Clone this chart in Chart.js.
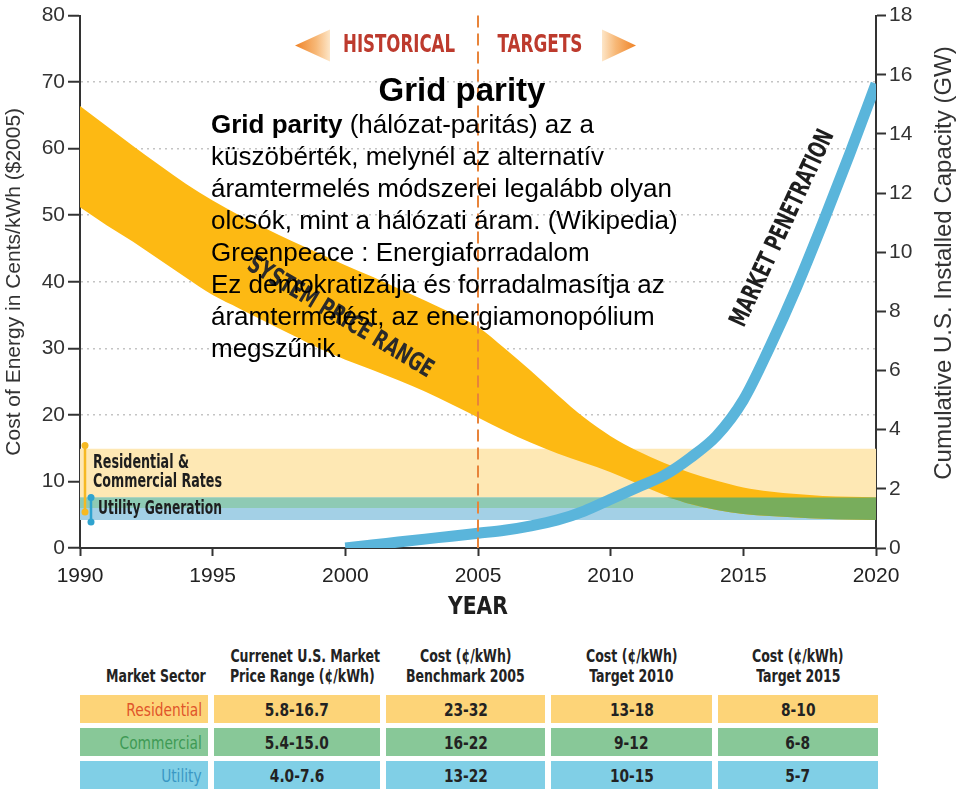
<!DOCTYPE html>
<html>
<head>
<meta charset="utf-8">
<script src="https://cdn.jsdelivr.net/npm/chart.js@4/dist/chart.umd.min.js"></script>
<style>
  body { margin:0; background:#fff; width:960px; height:789px; overflow:hidden; position:relative; font-family:'Liberation Sans', Arial, sans-serif; }
  #wrap { position:absolute; left:0; top:0; width:960px; height:640px; }
  #title { position:absolute; left:462px; top:70px; transform:translateX(-50%); font:bold 33px/40px 'Liberation Sans', Arial, sans-serif; color:#000; white-space:nowrap; }
  #note { position:absolute; left:211px; top:108px; font:26px/32px 'Liberation Sans', Arial, sans-serif; color:#000; white-space:nowrap; }
  .cell { position:absolute; display:flex; align-items:center; justify-content:center; font:bold 18px 'Liberation Sans Narrow','DejaVu Sans Condensed',sans-serif; color:#222; white-space:nowrap; }
  .cell span { display:inline-block; transform:scaleX(.85); }
  .hd { position:absolute; text-align:center; font:bold 17px/20px 'Liberation Sans Narrow','DejaVu Sans Condensed',sans-serif; color:#222; white-space:nowrap; }
  .hd span { display:inline-block; transform:scaleX(.82); }
</style>
</head>
<body>
<div id="wrap"><canvas id="chart"></canvas></div>
<div id="title">Grid parity</div>
<div id="note"><b>Grid parity</b> (hálózat-paritás) az a<br>küszöbérték, melynél az alternatív<br>áramtermelés módszerei legalább olyan<br>olcsók, mint a hálózati áram. (Wikipedia)<br>Greenpeace : Energiaforradalom<br>Ez demokratizálja és forradalmasítja az<br>áramtermelést, az energiamonopólium<br>megszűnik.</div>
<div id="tbl"></div>
<script>
// years on the x axis
const years = [1990,1991,1992,1993,1994,1995,1996,1997,1998,1999,2000,2001,2002,2003,2004,2005,
  2006,2007,2008,2009,2010,2011,2012,2013,2014,2015,2016,2017,2018,2019,2020];
// system price range (cents/kWh), upper and lower edge
const priceHigh = [66.4,63.4,60.4,57.5,54.7,52.2,50.0,48.0,46.1,44.3,42.5,40.8,39.0,37.2,35.3,33.2,
  30.0,26.6,23.0,19.6,16.8,14.6,12.8,11.3,10.1,9.1,8.5,8.1,7.8,7.7,7.6];
const priceLow = [51.2,48.5,46.0,43.3,40.6,38.0,36.0,34.0,32.0,30.0,28.3,26.8,25.2,23.5,21.6,19.6,
  17.6,15.8,14.2,12.8,11.4,9.7,8.0,6.6,5.7,5.1,4.8,4.6,4.4,4.3,4.2];
// cumulative installed capacity (GW), right axis
const penetration = [null,null,null,null,null,null,null,null,null,null,0,0.1,0.2,0.3,0.4,0.5,
  0.6,0.75,0.95,1.25,1.65,2.05,2.45,3.05,3.8,5.0,6.8,8.8,11.0,13.3,15.7];
// horizontal rate bands (low, high)
const ratesRange = [6.0, 14.9];
const utilityRange = [4.2, 7.6];
const bandYears = [1990, 2020];

// table
const sectors = ['Residential', 'Commercial', 'Utility'];
const sectorColors = ['#e0552a', '#3f9a55', '#3a98c4'];
const rowColors = ['#fdd478', '#88c898', '#80cfe6'];
const headers = [['Market Sector'], ['Currenet U.S. Market', 'Price Range (¢/kWh)'], ['Cost (¢/kWh)', 'Benchmark 2005'],
  ['Cost (¢/kWh)', 'Target 2010'], ['Cost (¢/kWh)', 'Target 2015']];
const currentRange = ['5.8-16.7', '5.4-15.0', '4.0-7.6'];
const bench2005 = ['23-32', '16-22', '13-22'];
const target2010 = ['13-18', '9-12', '10-15'];
const target2015 = ['8-10', '6-8', '5-7'];

const pts = arr => years.map((x, i) => ({ x, y: arr[i] }));
const band = v => bandYears.map(x => ({ x, y: v }));

// overlap of price range with utility band -> green
const greenHigh = years.map((x, i) => Math.min(priceHigh[i], utilityRange[1]));
const greenLow = years.map((x, i) => Math.max(priceLow[i], utilityRange[0]));
greenLow.forEach((v, i) => { if (v > greenHigh[i]) greenLow[i] = greenHigh[i]; });

function fitText(ctx, text, cx, cy, w, font, color, angle, align) {
  ctx.save();
  ctx.translate(cx, cy);
  ctx.rotate(angle || 0);
  ctx.font = font;
  const m = ctx.measureText(text).width;
  ctx.scale(w / m, 1);
  ctx.textAlign = align || 'center';
  ctx.textBaseline = 'middle';
  ctx.fillStyle = color;
  ctx.fillText(text, 0, 0);
  ctx.restore();
}

const COND = "bold 25px 'Liberation Sans Narrow','DejaVu Sans Condensed',sans-serif";

const decor = {
  id: 'decor',
  afterDatasetsDraw(chart) {
    const { ctx, chartArea: a, scales: { x, y, y2 } } = chart;
    const x05 = x.getPixelForValue(2005);

    // 2005 divider
    ctx.save();
    ctx.strokeStyle = '#e8843a';
    ctx.lineWidth = 2;
    ctx.setLineDash([12, 6]);
    ctx.beginPath();
    ctx.moveTo(x05, a.top);
    ctx.lineTo(x05, a.bottom);
    ctx.stroke();
    ctx.restore();

    // header arrows
    const hy = a.top + 30;
    const arrow = (tip, base) => {
      const g = ctx.createLinearGradient(tip, 0, base, 0);
      g.addColorStop(0, '#ef8226');
      g.addColorStop(0.6, '#f7b877');
      g.addColorStop(1, '#fde6c8');
      ctx.fillStyle = g;
      ctx.beginPath();
      ctx.moveTo(tip, hy);
      ctx.lineTo(base, hy - 16);
      ctx.lineTo(base, hy + 16);
      ctx.closePath();
      ctx.fill();
    };
    arrow(x05 - 183, x05 - 148);
    arrow(x05 + 158, x05 + 124);
    fitText(ctx, 'HISTORICAL', x05 - 79, hy, 112, COND, '#bd3a2d');
    fitText(ctx, 'TARGETS', x05 + 62, hy, 85, COND, '#bd3a2d');

    // band labels
    fitText(ctx, 'SYSTEM PRICE RANGE', x.getPixelForValue(1999.8), y.getPixelForValue(34.6), 212, COND, '#2a2a2a', 31 * Math.PI / 180);
    fitText(ctx, 'MARKET PENETRATION', x.getPixelForValue(2016.5), y2.getPixelForValue(10.8), 214, COND, '#1e1e1e', -65 * Math.PI / 180);

    // legend bars
    const bar = (px, lo, hi, col) => {
      ctx.save();
      ctx.strokeStyle = col;
      ctx.fillStyle = col;
      ctx.lineWidth = 2.5;
      ctx.beginPath();
      ctx.moveTo(px, y.getPixelForValue(hi));
      ctx.lineTo(px, y.getPixelForValue(lo));
      ctx.stroke();
      [lo, hi].forEach(v => { ctx.beginPath(); ctx.arc(px, y.getPixelForValue(v), 3.5, 0, Math.PI * 2); ctx.fill(); });
      ctx.restore();
    };
    bar(a.left + 5, ratesRange[0] - 0.6, ratesRange[1] + 0.5, '#f6b922');
    bar(a.left + 11, utilityRange[0] - 0.3, utilityRange[1], '#2fa3cf');
    const LEG = "bold 20px 'Liberation Sans Narrow','DejaVu Sans Condensed',sans-serif";
    fitText(ctx, 'Residential &', a.left + 13, 463, 96, LEG, '#1e1e1e', 0, 'left');
    fitText(ctx, 'Commercial Rates', a.left + 13, 482, 129, LEG, '#1e1e1e', 0, 'left');
    fitText(ctx, 'Utility Generation', a.left + 18, 509, 124, LEG, '#1e1e1e', 0, 'left');
  },
  afterDraw(chart) {
    const { ctx } = chart;
    // right axis title, reading upward
    ctx.save();
    ctx.translate(944, 263);
    ctx.rotate(-Math.PI / 2);
    ctx.font = "24px 'Liberation Sans', Arial, sans-serif";
    ctx.fillStyle = '#333';
    ctx.textAlign = 'center';
    ctx.textBaseline = 'middle';
    ctx.fillText('Cumulative U.S. Installed Capacity (GW)', 0, 0);
    ctx.restore();
    fitText(ctx, 'YEAR', chart.scales.x.getPixelForValue(2005), 607, 60, COND, '#1e1e1e');
  }
};

const noLine = { borderWidth: 0, pointRadius: 0, fill: false };
const tickFont = { size: 21, family: "'Liberation Sans', Arial" };

new Chart(document.getElementById('chart'), {
  type: 'line',
  data: {
    datasets: [
      { data: pts(penetration), yAxisID: 'y2', borderColor: '#5ab5db', borderWidth: 11, pointRadius: 0,
        cubicInterpolationMode: 'monotone', borderCapStyle: 'butt', fill: false, order: 0 },
      { data: pts(greenHigh), borderWidth: 0, pointRadius: 0, cubicInterpolationMode: 'monotone',
        fill: 2, backgroundColor: '#78ad5c', order: 1 },
      { data: pts(greenLow), ...noLine, cubicInterpolationMode: 'monotone', order: 1 },
      { data: pts(priceHigh), borderWidth: 0, pointRadius: 0, cubicInterpolationMode: 'monotone',
        fill: 4, backgroundColor: '#fdb913', order: 2 },
      { data: pts(priceLow), ...noLine, cubicInterpolationMode: 'monotone', order: 2 },
      { data: band(Math.min(ratesRange[1], utilityRange[1])), borderWidth: 0, pointRadius: 0,
        fill: 6, backgroundColor: '#8ecab4', order: 3 },
      { data: band(Math.max(ratesRange[0], utilityRange[0])), ...noLine, order: 3 },
      { data: band(utilityRange[1]), borderWidth: 0, pointRadius: 0, fill: 8, backgroundColor: '#a3d0e6', order: 4 },
      { data: band(utilityRange[0]), ...noLine, order: 4 },
      { data: band(ratesRange[1]), borderWidth: 0, pointRadius: 0, fill: 10, backgroundColor: '#fee8b4', order: 5 },
      { data: band(ratesRange[0]), ...noLine, order: 5 }
    ]
  },
  options: {
    responsive: true,
    maintainAspectRatio: false,
    animation: false,
    layout: { padding: { top: 12, left: 0, right: 0, bottom: 0 } },
    plugins: { legend: { display: false }, tooltip: { enabled: false } },
    scales: {
      x: {
        type: 'linear', min: 1990, max: 2020,
        ticks: { stepSize: 5, color: '#222', font: tickFont, padding: 8, callback: v => String(v) },
        grid: { drawOnChartArea: false, tickLength: 8, tickColor: '#333', tickWidth: 2 },
        border: { color: '#333', width: 2 },
        afterFit: s => { s.height = 92; }
      },
      y: {
        position: 'left', min: 0, max: 80,
        ticks: { stepSize: 10, color: '#333', font: tickFont, padding: 3 },
        grid: { color: c => (c.tick.value === 0 || c.tick.value === 80) ? 'rgba(0,0,0,0)' : '#c4c4c4',
          lineWidth: 1.5, tickLength: 12, tickColor: '#333', tickWidth: 2, tickBorderDash: [] },
        border: { color: '#333', width: 2, dash: [2, 4] },
        title: { display: true, text: 'Cost of Energy in Cents/kWh ($2005)', color: '#333',
          font: { size: 21, family: "'Liberation Sans', Arial" }, padding: { top: 2, bottom: 0 } },
        afterFit: s => { s.width = 80; }
      },
      y2: {
        position: 'right', min: 0, max: 18,
        ticks: { stepSize: 2, color: '#333', font: tickFont, padding: 3 },
        grid: { drawOnChartArea: false, tickLength: 10, tickColor: '#333', tickWidth: 2 },
        border: { color: '#333', width: 2 },
        afterFit: s => { s.width = 84; }
      }
    }
  },
  plugins: [decor]
});

// table below the chart
const tbl = document.getElementById('tbl');
const cols = [[80, 128], [214, 166], [386, 159], [551, 161], [718, 160]];
const rowTops = [695, 728, 761];
headers.forEach((h, c) => {
  const d = document.createElement('div');
  d.className = 'hd';
  d.style.left = cols[c][0] + 'px';
  d.style.width = cols[c][1] + 'px';
  d.style.top = (h.length === 1 ? 666 : 646) + 'px';
  if (c === 0) { d.style.left = (cols[c][0] + 12) + 'px'; }
  d.innerHTML = h.map(t => '<span>' + t + '</span>').join('<br>');
  tbl.appendChild(d);
});
sectors.forEach((s, r) => {
  const vals = [s, currentRange[r], bench2005[r], target2010[r], target2015[r]];
  vals.forEach((v, c) => {
    const d = document.createElement('div');
    d.className = 'cell';
    d.style.left = cols[c][0] + 'px';
    d.style.width = cols[c][1] + 'px';
    d.style.top = rowTops[r] + 'px';
    d.style.height = '28px';
    d.style.background = rowColors[r];
    const sp = document.createElement('span');
    sp.textContent = v;
    d.appendChild(sp);
    if (c === 0) {
      d.style.justifyContent = 'flex-end';
      d.style.color = sectorColors[r];
      d.style.fontWeight = 'normal';
      sp.style.transformOrigin = 'right center';
      sp.style.marginRight = '6px';
    }
    tbl.appendChild(d);
  });
});
</script>
</body>
</html>
